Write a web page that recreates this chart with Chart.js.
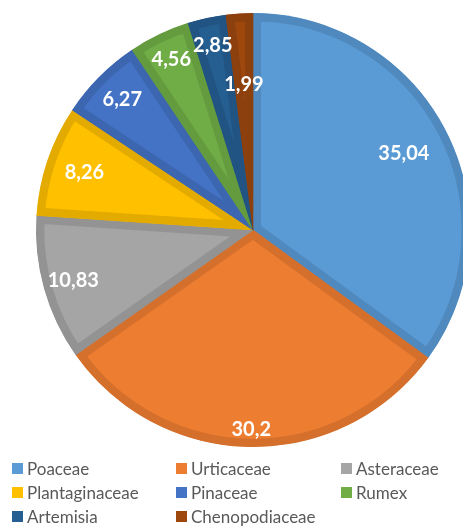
<!DOCTYPE html>
<html>
<head>
<meta charset="utf-8">
<script src="https://cdn.jsdelivr.net/npm/chart.js@4.4.1/dist/chart.umd.min.js"></script>
<style>
  html, body { margin: 0; padding: 0; background: #fff; overflow: hidden; }
  body { width: 463px; height: 526px; position: relative; }
  #pieBox { position: absolute; left: 0; top: 0; width: 506px; height: 460px; }
  #legend { position: absolute; left: 12px; top: 458px; width: 451px;
    font-family: Lato, "Open Sans", sans-serif; font-size: 17px; color: #595959; }
  .item { position: absolute; display: flex; align-items: center; white-space: nowrap; }
  .sw { width: 11px; height: 11px; margin-right: 4px; }
</style>
</head>
<body>
<div id="pieBox"><canvas id="pie"></canvas></div>
<div id="legend"></div>
<script>
// data
const families = ["Poaceae", "Urticaceae", "Asteraceae", "Plantaginaceae", "Pinaceae", "Rumex", "Artemisia", "Chenopodiaceae"];
const shares = [35.04, 30.2, 10.83, 8.26, 6.27, 4.56, 2.85, 1.99];
const shareText = ["35,04", "30,2", "10,83", "8,26", "6,27", "4,56", "2,85", "1,99"];

// look
const fills = ["#5B9BD5", "#ED7D31", "#A5A5A5", "#FFC000", "#4472C4", "#70AD47", "#255E91", "#9E480E"];
const edges = ["#4F89BE", "#D46F2C", "#939393", "#E3AB00", "#3C66B0", "#649B3F", "#215482", "#8C400D"];
const labelRadius = [0.78, 0.92, 0.86, 0.82, 0.85, 0.87, 0.87, 0.67];

// white values inside the slices
const sliceLabels = {
  id: 'sliceLabels',
  afterDatasetsDraw(chart) {
    const ctx = chart.ctx;
    const arcs = chart.getDatasetMeta(0).data;
    ctx.save();
    ctx.fillStyle = '#fff';
    ctx.font = 'bold 20px Lato, "Open Sans", sans-serif';
    ctx.textAlign = 'center';
    ctx.textBaseline = 'middle';
    arcs.forEach(function (a, i) {
      const mid = (a.startAngle + a.endAngle) / 2;
      const r = a.outerRadius * labelRadius[i];
      ctx.fillText(shareText[i], a.x + Math.cos(mid) * r, a.y + Math.sin(mid) * r);
    });
    ctx.restore();
  }
};

new Chart(document.getElementById('pie'), {
  type: 'pie',
  data: {
    labels: families,
    datasets: [{
      data: shares,
      backgroundColor: fills,
      borderColor: edges,
      borderWidth: 8,
      borderAlign: 'inner'
    }]
  },
  options: {
    responsive: true,
    maintainAspectRatio: false,
    animation: false,
    events: [],
    radius: 217,
    plugins: {
      legend: { display: false },
      tooltip: { enabled: false }
    }
  },
  plugins: [sliceLabels]
});

// legend in three columns
const colX = [0, 164, 329];
const rowY = [0, 24, 48];
const legend = document.getElementById('legend');
families.forEach(function (name, i) {
  const d = document.createElement('div');
  d.className = 'item';
  d.style.left = colX[i % 3] + 'px';
  d.style.top = rowY[Math.floor(i / 3)] + 'px';
  d.innerHTML = '<span class="sw" style="background:' + fills[i] + '"></span>' + name;
  legend.appendChild(d);
});
</script>
</body>
</html>
